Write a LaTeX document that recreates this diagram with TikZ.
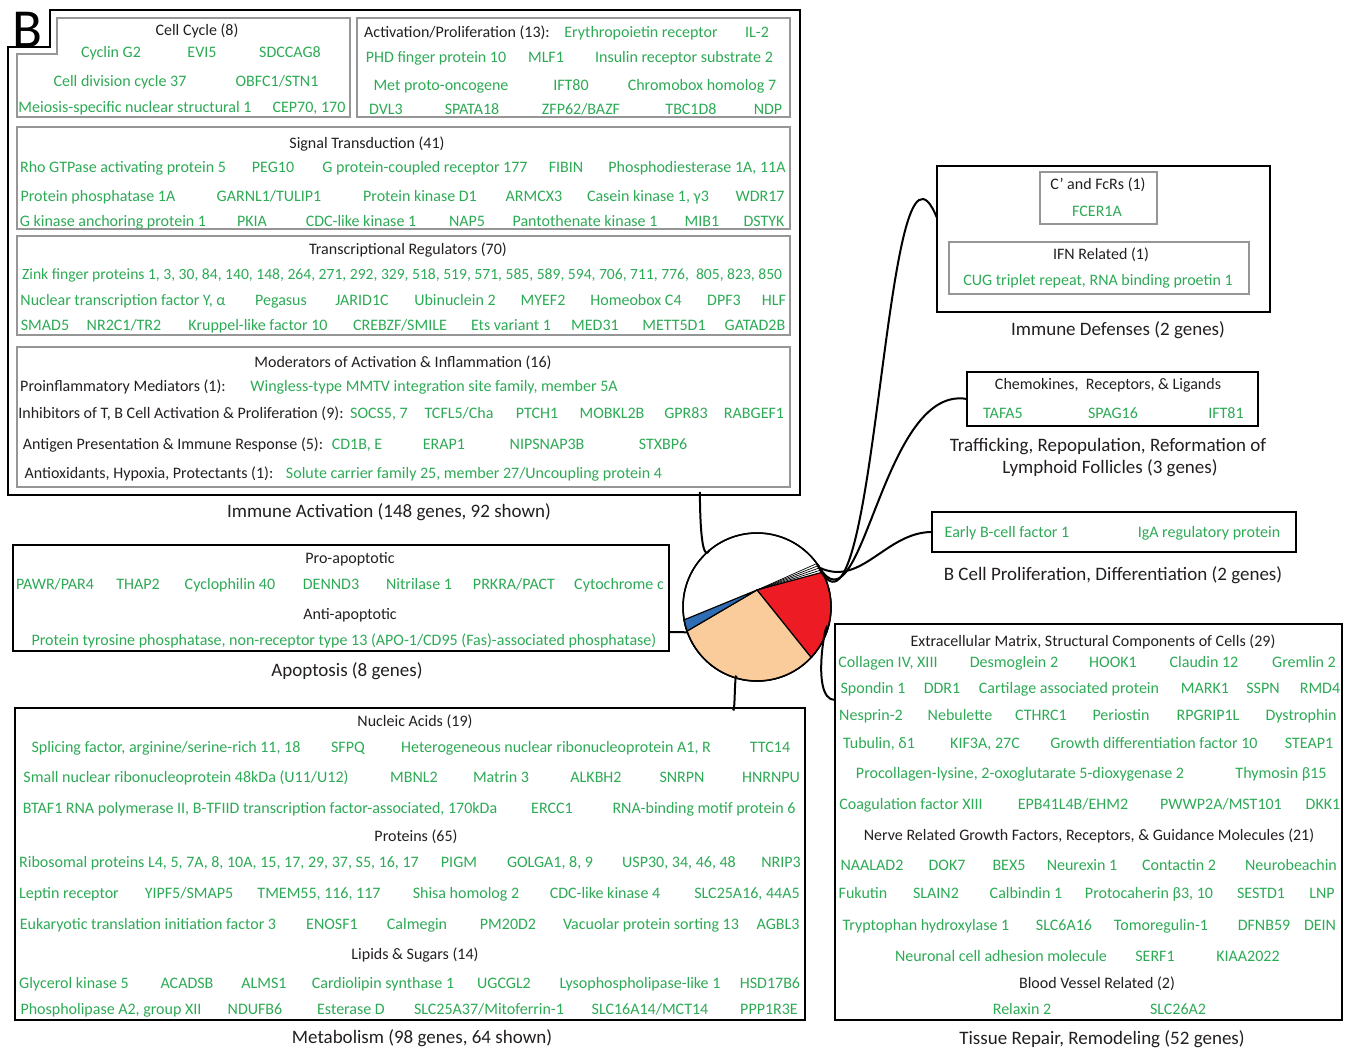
\documentclass[tikz,border=0pt]{standalone}
\usepackage{fontspec}
\setmainfont{Carlito}
\usetikzlibrary{positioning}
\definecolor{GeneGreen}{RGB}{45,170,85}
\definecolor{BoxGrey}{RGB}{150,150,150}
\definecolor{TextBlack}{RGB}{35,31,32}
\definecolor{PieRed}{RGB}{237,28,36}
\definecolor{PiePeach}{RGB}{250,204,156}
\definecolor{PieBlue}{RGB}{46,109,180}

\begin{document}
\begin{tikzpicture}[x=1pt, y=-1pt,
GeneStyle/.style={anchor=base, yshift=-5.5pt, text=GeneGreen, inner sep=0pt,
                font=\fontsize{16}{19}\selectfont},
HeadStyle/.style={anchor=base, yshift=-5.5pt, text=TextBlack, inner sep=0pt,
                font=\fontsize{16}{19}\selectfont},
LabelStyle/.style={anchor=base, yshift=-6.5pt, text=TextBlack, inner sep=0pt,
                font=\fontsize{19}{23}\selectfont},
OuterBox/.style={draw=black, line width=2.5, anchor=north west, inner sep=0pt,
                outer sep=0pt},
InnerBox/.style={draw=BoxGrey, line width=2, anchor=north west, inner sep=0pt,
                outer sep=0pt},
LinkStyle/.style={draw=black, line width=2},]
\useasboundingbox (0,0) rectangle (1350,1048);

% Immune activation
\draw[line width=2.5] (50,10) -- (800,10) -- (800,495) -- (8,495) -- (8,47) -- (50,47) -- cycle;
\coordinate (iaS) at (700,495);
\node[anchor=north west, inner sep=0pt, font=\fontsize{55}{55}\selectfont] (panelB) at (12,12) {B};
\draw[BoxGrey, line width=2] (57,18) -- (350,18) -- (350,117) -- (17,117) -- (17,54) -- (57,54) -- cycle;
\node[HeadStyle] (ccHead) at (197,30) {Cell Cycle (8)};
\foreach \cx/\txt [count=\k] in {111/{Cyclin G2}, 202/EVI5, 290/SDCCAG8}
  \node[GeneStyle] (cc1-\k) at (\cx,52) {\txt};
\foreach \cx/\txt [count=\k] in {120/{Cell division cycle 37}, 277/{OBFC1/STN1}}
  \node[GeneStyle] (cc2-\k) at (\cx,81) {\txt};
\foreach \cx/\txt [count=\k] in {135/{Meiosis-specific nuclear structural 1}, 309/{CEP70, 170}}
  \node[GeneStyle] (cc3-\k) at (\cx,107) {\txt};

\node[InnerBox, minimum width=433, minimum height=99] (actBox) at (357,18) {};
\node[HeadStyle] (actHead) at (457,32) {Activation/Proliferation (13):};
\foreach \cx/\txt [count=\k] in {641/{Erythropoietin receptor}, 757/IL-2}
  \node[GeneStyle] (ac1-\k) at (\cx,32) {\txt};
\foreach \cx/\txt [count=\k] in {436/{PHD finger protein 10}, 546/MLF1, 684/{Insulin receptor substrate 2}}
  \node[GeneStyle] (ac2-\k) at (\cx,57) {\txt};
\foreach \cx/\txt [count=\k] in {441/{Met proto-oncogene}, 571/IFT80, 702/{Chromobox homolog 7}}
  \node[GeneStyle] (ac3-\k) at (\cx,85) {\txt};
\foreach \cx/\txt [count=\k] in {386/DVL3, 472/SPATA18, 581/{ZFP62/BAZF}, 691/TBC1D8, 768/NDP}
  \node[GeneStyle] (ac4-\k) at (\cx,109) {\txt};

\node[InnerBox, minimum width=773, minimum height=102] (sigBox) at (17,127) {};
\node[HeadStyle] (sigHead) at (367,143) {Signal Transduction (41)};
\foreach \cx/\txt [count=\k] in {123/{Rho GTPase activating protein 5}, 273/PEG10,
    425/{G protein-coupled receptor 177}, 566/FIBIN, 697/{Phosphodiesterase 1A, 11A}}
  \node[GeneStyle] (st1-\k) at (\cx,167) {\txt};
\foreach \cx/\txt [count=\k] in {98/{Protein phosphatase 1A}, 269/{GARNL1/TULIP1},
    420/{Protein kinase D1}, 534/ARMCX3, 648/{Casein kinase 1, γ3}, 760/WDR17}
  \node[GeneStyle] (st2-\k) at (\cx,196) {\txt};
\foreach \cx/\txt [count=\k] in {113/{G kinase anchoring protein 1}, 252/PKIA,
    361/{CDC-like kinase 1}, 467/NAP5, 585/{Pantothenate kinase 1}, 702/MIB1, 764/DSTYK}
  \node[GeneStyle] (st3-\k) at (\cx,221) {\txt};

\node[InnerBox, minimum width=773, minimum height=99] (trBox) at (17,236) {};
\node[HeadStyle] (trHead) at (408,249) {Transcriptional Regulators (70)};
\node[GeneStyle, font=\fontsize{15.6}{19}\selectfont] (tr1-1) at (402,274) {Zink finger proteins 1, 3, 30, 84, 140, 148, 264, 271, 292, 329, 518, 519, 571, 585, 589, 594, 706, 711, 776,\ \ 805, 823, 850};
\foreach \cx/\txt [count=\k] in {123/{Nuclear transcription factor Y, α}, 281/Pegasus,
    362/JARID1C, 455/{Ubinuclein 2}, 543/MYEF2, 636/{Homeobox C4}, 724/DPF3, 774/HLF}
  \node[GeneStyle] (tr2-\k) at (\cx,300) {\txt};
\foreach \cx/\txt [count=\k] in {45/SMAD5, 124/{NR2C1/TR2}, 258/{Kruppel-like factor 10},
    400/{CREBZF/SMILE}, 511/{Ets variant 1}, 595/MED31, 674/METT5D1, 755/GATAD2B}
  \node[GeneStyle] (tr3-\k) at (\cx,325) {\txt};

\node[InnerBox, minimum width=773, minimum height=140] (modBox) at (17,347) {};
\node[HeadStyle] (modHead) at (403,362) {Moderators of Activation \& Inflammation (16)};
\node[HeadStyle] (mod1) at (123,386) {Proinflammatory Mediators (1):};
\node[GeneStyle] (mod1-1) at (434,386) {Wingless-type MMTV integration site family, member 5A};
\node[HeadStyle] (mod2) at (181,413) {Inhibitors of T, B Cell Activation \& Proliferation (9):};
\foreach \cx/\txt [count=\k] in {379/{SOCS5, 7}, 459/{TCFL5/Cha}, 537/PTCH1, 612/MOBKL2B,
    686/GPR83, 754/RABGEF1}
  \node[GeneStyle] (mod2-\k) at (\cx,413) {\txt};
\node[HeadStyle] (mod3) at (173,444) {Antigen Presentation \& Immune Response (5):};
\foreach \cx/\txt [count=\k] in {357/{CD1B, E}, 444/ERAP1, 547/NIPSNAP3B, 663/STXBP6}
  \node[GeneStyle] (mod3-\k) at (\cx,444) {\txt};
\node[HeadStyle] (mod4) at (149,473) {Antioxidants, Hypoxia, Protectants (1):};
\node[GeneStyle] (mod4-1) at (474,473) {Solute carrier family 25, member 27/Uncoupling protein 4};
\node[LabelStyle] (iaLabel) at (389,511) {Immune Activation (148 genes, 92 shown)};

% Apoptosis
\node[OuterBox, minimum width=656, minimum height=106] (apoBox) at (13,545) {};
\node[HeadStyle] (proHead) at (350,558) {Pro-apoptotic};
\foreach \cx/\txt [count=\k] in {55/{PAWR/PAR4}, 138/THAP2, 230/{Cyclophilin 40}, 331/DENND3,
    419/{Nitrilase 1}, 514/{PRKRA/PACT}, 619/{Cytochrome c}}
  \node[GeneStyle] (ap1-\k) at (\cx,584) {\txt};
\node[HeadStyle] (antiHead) at (350,614) {Anti-apoptotic};
\node[GeneStyle] (ap2-1) at (344,640) {Protein tyrosine phosphatase, non-receptor type 13 (APO-1/CD95 (Fas)-associated phosphatase)};
\node[LabelStyle] (apoLabel) at (347,670) {Apoptosis (8 genes)};

% Metabolism
\node[OuterBox, minimum width=790, minimum height=312] (metBox) at (15,708) {};
\node[HeadStyle] (naHead) at (415,721) {Nucleic Acids (19)};
\foreach \cx/\txt [count=\k] in {166/{Splicing factor, arginine/serine-rich 11, 18}, 348/SFPQ,
    556/{Heterogeneous nuclear ribonucleoprotein A1, R}, 770/TTC14}
  \node[GeneStyle] (na1-\k) at (\cx,747) {\txt};
\foreach \cx/\txt [count=\k] in {186/{Small nuclear ribonucleoprotein 48kDa (U11/U12)}, 414/MBNL2,
    501/{Matrin 3}, 596/ALKBH2, 682/SNRPN, 771/HNRNPU}
  \node[GeneStyle] (na2-\k) at (\cx,777) {\txt};
\foreach \cx/\txt [count=\k] in {260/{BTAF1 RNA polymerase II, B-TFIID transcription factor-associated, 170kDa},
    552/ERCC1, 704/{RNA-binding motif protein 6}}
  \node[GeneStyle] (na3-\k) at (\cx,808) {\txt};
\node[HeadStyle] (prHead) at (416,836) {Proteins (65)};
\foreach \cx/\txt [count=\k] in {219/{Ribosomal proteins L4, 5, 7A, 8, 10A, 15, 17, 29, 37, S5, 16, 17},
    459/PIGM, 550/{GOLGA1, 8, 9}, 679/{USP30, 34, 46, 48}, 781/NRIP3}
  \node[GeneStyle] (pr1-\k) at (\cx,862) {\txt};
\foreach \cx/\txt [count=\k] in {69/{Leptin receptor}, 189/{YIPF5/SMAP5}, 319/{TMEM55, 116, 117},
    466/{Shisa homolog 2}, 605/{CDC-like kinase 4}, 747/{SLC25A16, 44A5}}
  \node[GeneStyle] (pr2-\k) at (\cx,893) {\txt};
\foreach \cx/\txt [count=\k] in {148/{Eukaryotic translation initiation factor 3}, 332/ENOSF1,
    417/Calmegin, 508/PM20D2, 651/{Vacuolar protein sorting 13}, 778/AGBL3}
  \node[GeneStyle] (pr3-\k) at (\cx,924) {\txt};
\node[HeadStyle] (lsHead) at (415,954) {Lipids \& Sugars (14)};
\foreach \cx/\txt [count=\k] in {74/{Glycerol kinase 5}, 187/ACADSB, 264/ALMS1,
    383/{Cardiolipin synthase 1}, 504/UGCGL2, 640/{Lysophospholipase-like 1}, 770/HSD17B6}
  \node[GeneStyle] (ls1-\k) at (\cx,983) {\txt};
\foreach \cx/\txt [count=\k] in {111/{Phospholipase A2, group XII}, 255/NDUFB6, 351/{Esterase D},
    489/{SLC25A37/Mitoferrin-1}, 650/{SLC16A14/MCT14}, 769/PPP1R3E}
  \node[GeneStyle] (ls2-\k) at (\cx,1009) {\txt};
\node[LabelStyle] (metLabel) at (422,1037) {Metabolism (98 genes, 64 shown)};

% Immune defenses
\node[OuterBox, minimum width=333, minimum height=146] (idBox) at (937,166) {};
\node[InnerBox, minimum width=117, minimum height=52] (fcrBox) at (1040,172) {};
\node[HeadStyle] (fcrHead) at (1098,184) {C' and FcRs (1)};
\node[GeneStyle] (fcr1) at (1097,211) {FCER1A};
\node[InnerBox, minimum width=300, minimum height=52] (ifnBox) at (949,242) {};
\node[HeadStyle] (ifnHead) at (1101,254) {IFN Related (1)};
\node[GeneStyle] (ifn1) at (1098,280) {CUG triplet repeat, RNA binding proetin 1};
\node[LabelStyle] (idLabel) at (1118,329) {Immune Defenses (2 genes)};

% Trafficking
\node[OuterBox, minimum width=291, minimum height=54] (chBox) at (967,372) {};
\node[HeadStyle] (chHead) at (1108,384) {Chemokines,\ \ Receptors, \& Ligands};
\foreach \cx/\txt [count=\k] in {1003/TAFA5, 1113/SPAG16, 1226/IFT81}
  \node[GeneStyle] (ch-\k) at (\cx,413) {\txt};
\node[LabelStyle] (chLabel1) at (1108,445) {Trafficking, Repopulation, Reformation of};
\node[LabelStyle] (chLabel2) at (1110,467) {Lymphoid Follicles (3 genes)};

% B cell
\node[OuterBox, minimum width=364, minimum height=40] (bcBox) at (932,512) {};
\node[GeneStyle] (bc-1) at (1007,532) {Early B-cell factor 1};
\node[GeneStyle] (bc-2) at (1209,532) {IgA regulatory protein};
\node[LabelStyle] (bcLabel) at (1113,574) {B Cell Proliferation, Differentiation (2 genes)};

% Tissue repair
\node[OuterBox, minimum width=507, minimum height=396] (tsBox) at (835,624) {};
\node[HeadStyle] (ecmHead) at (1093,641) {Extracellular Matrix, Structural Components of Cells (29)};
\foreach \cx/\txt [count=\k] in {888/{Collagen IV, XIII}, 1014/{Desmoglein 2}, 1113/HOOK1,
    1204/{Claudin 12}, 1304/{Gremlin 2}}
  \node[GeneStyle] (ecm1-\k) at (\cx,662) {\txt};
\foreach \cx/\txt [count=\k] in {873/{Spondin 1}, 942/DDR1, 1069/{Cartilage associated protein},
    1205/MARK1, 1263/SSPN, 1320/RMD4}
  \node[GeneStyle] (ecm2-\k) at (\cx,688) {\txt};
\foreach \cx/\txt [count=\k] in {871/Nesprin-2, 960/Nebulette, 1041/CTHRC1, 1121/Periostin,
    1208/RPGRIP1L, 1301/Dystrophin}
  \node[GeneStyle] (ecm3-\k) at (\cx,715) {\txt};
\foreach \cx/\txt [count=\k] in {879/{Tubulin, δ1}, 985/{KIF3A, 27C},
    1154/{Growth differentiation factor 10}, 1309/STEAP1}
  \node[GeneStyle] (ecm4-\k) at (\cx,743) {\txt};
\foreach \cx/\txt [count=\k] in {1020/{Procollagen-lysine, 2-oxoglutarate 5-dioxygenase 2},
    1281/{Thymosin β15}}
  \node[GeneStyle] (ecm5-\k) at (\cx,773) {\txt};
\foreach \cx/\txt [count=\k] in {911/{Coagulation factor XIII}, 1073/{EPB41L4B/EHM2},
    1221/{PWWP2A/MST101}, 1323/DKK1}
  \node[GeneStyle] (ecm6-\k) at (\cx,804) {\txt};
\node[HeadStyle] (nrvHead) at (1089,835) {Nerve Related Growth Factors, Receptors, \& Guidance Molecules (21)};
\foreach \cx/\txt [count=\k] in {872/NAALAD2, 947/DOK7, 1009/BEX5, 1082/{Neurexin 1},
    1179/{Contactin 2}, 1291/Neurobeachin}
  \node[GeneStyle] (nrv1-\k) at (\cx,865) {\txt};
\foreach \cx/\txt [count=\k] in {863/Fukutin, 936/SLAIN2, 1026/{Calbindin 1},
    1149/{Protocaherin β3, 10}, 1261/SESTD1, 1322/LNP}
  \node[GeneStyle] (nrv2-\k) at (\cx,893) {\txt};
\foreach \cx/\txt [count=\k] in {926/{Tryptophan hydroxylase 1}, 1064/SLC6A16, 1161/Tomoregulin-1,
    1264/DFNB59, 1320/DEIN}
  \node[GeneStyle] (nrv3-\k) at (\cx,925) {\txt};
\foreach \cx/\txt [count=\k] in {1001/{Neuronal cell adhesion molecule}, 1155/SERF1, 1248/KIAA2022}
  \node[GeneStyle] (nrv4-\k) at (\cx,956) {\txt};
\node[HeadStyle] (bvHead) at (1097,983) {Blood Vessel Related (2)};
\foreach \cx/\txt [count=\k] in {1022/{Relaxin 2}, 1178/SLC26A2}
  \node[GeneStyle] (bv-\k) at (\cx,1009) {\txt};
\node[LabelStyle] (tsLabel) at (1102,1038) {Tissue Repair, Remodeling (52 genes)};

% pie
\begin{scope}[shift={(757,607)}, yscale=-1]
\coordinate (pieV) at (0,17);
\filldraw[fill=white, draw=black, line width=1.5] (0,0) circle[radius=74];
\filldraw[fill=PieRed, draw=black, line width=1.2] (pieV) -- (28:74) arc[start angle=28, end angle=-43, radius=74] -- cycle;
\filldraw[fill=PiePeach, draw=black, line width=1.2] (pieV) -- (-43:74) arc[start angle=-43, end angle=-161, radius=74] -- cycle;
\filldraw[fill=PieBlue, draw=black, line width=1.2] (pieV) -- (-161:74) arc[start angle=-161, end angle=-170, radius=74] -- cycle;
\foreach \a in {30,32,34,36}
  \draw[line width=0.7] (pieV) -- (\a:74);
\draw[line width=1.5] (0,0) circle[radius=74];
\coordinate (pIA) at (130:74);
\coordinate (pDef) at (36:74);
\coordinate (pChe) at (34:74);
\coordinate (pBC) at (32:74);
\coordinate (pTR) at (-20:74);
\coordinate (pMet) at (-106:74);
\coordinate (pApo) at (-160:74);
\end{scope}

% connectors
\draw[LinkStyle] (iaS) to[out=90, in=-120] (pIA);
\draw[LinkStyle] ([yshift=21pt]idBox.west) to[out=112, in=-65] (pDef);
\draw[LinkStyle] (chBox.west) to[out=170, in=-60] (pChe);
\draw[LinkStyle] (bcBox.west) to[out=180, in=-25] (pBC);
\draw[LinkStyle] (pTR) to[out=85, in=180] ([yshift=122pt]tsBox.west);
\draw[LinkStyle] (pMet) to[out=100, in=-80] ([xshift=323pt]metBox.north);
\draw[LinkStyle] ([yshift=-34pt]apoBox.east) -- (pApo);
\end{tikzpicture}
\end{document}
